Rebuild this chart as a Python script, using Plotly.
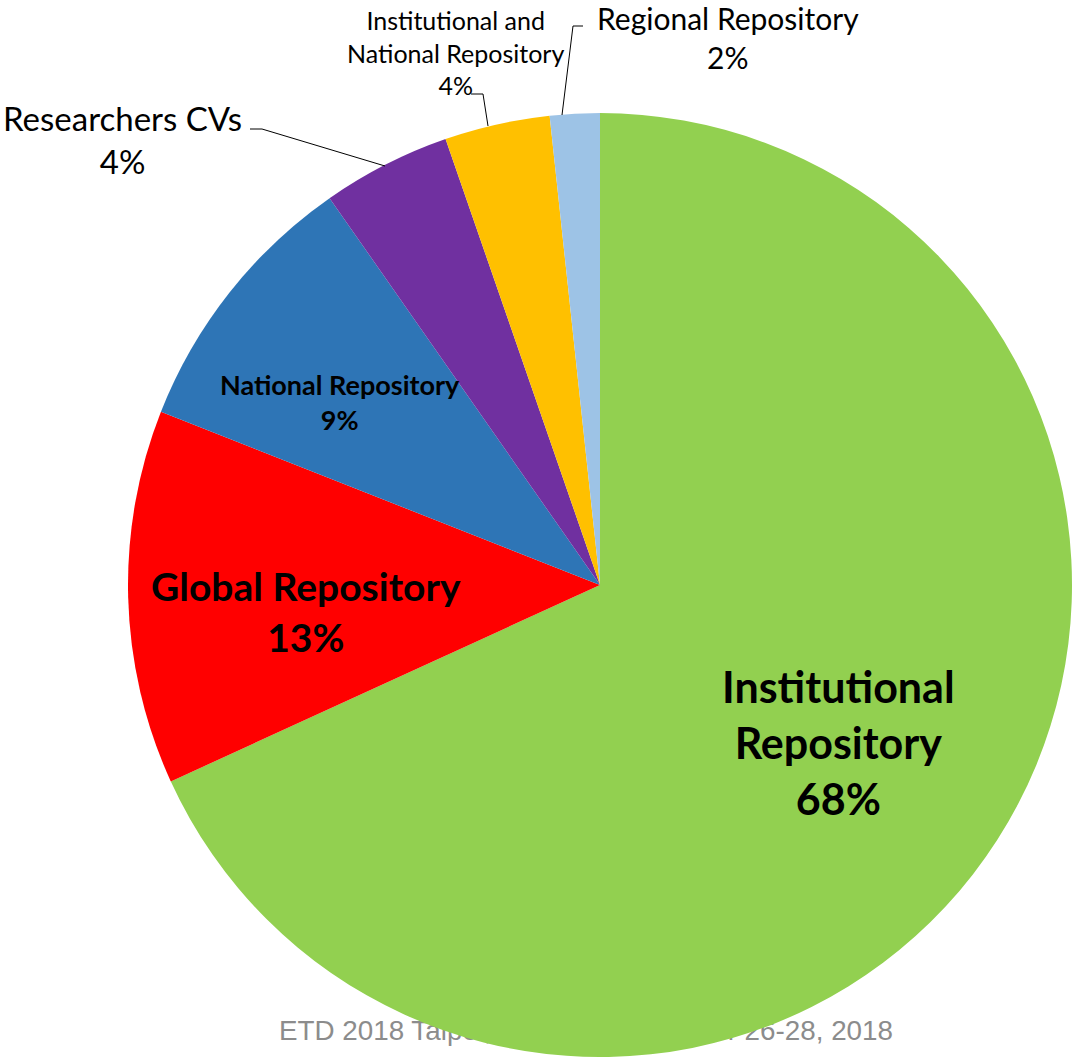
import plotly.graph_objects as go

W, H = 1076, 1057

categories = ["Institutional Repository", "Global Repository", "National Repository",
              "Researchers CVs", "Institutional and National Repository", "Regional Repository"]
label_lines = [["Institutional", "Repository"], ["Global Repository"], ["National Repository"],
               ["Researchers CVs"], ["Institutional and", "National Repository"], ["Regional Repository"]]
values = [68.1, 12.8, 9.3, 4.4, 3.6, 1.7]
colors = ["#92D050", "#FF0000", "#2E75B6", "#7030A0", "#FFC000", "#9DC3E6"]
footer = "ETD 2018 Taipei, Taiwan, September 26-28, 2018"

total = sum(values)
pcts = [round(v / total * 100) for v in values]

fig = go.Figure()

# footer text on cartesian layer (drawn beneath the pie)
fig.add_trace(go.Scatter(x=[279], y=[H - 1033], mode="text", text=[footer],
                         textposition="middle right",
                         textfont=dict(family="Liberation Sans, Arial", size=27.8, color="#8C8C8C"),
                         hoverinfo="skip", showlegend=False))

fig.add_trace(go.Pie(labels=categories, values=values, sort=False, direction="clockwise",
                     rotation=0, marker=dict(colors=colors, line=dict(width=0)),
                     textinfo="none", hoverinfo="label+percent", showlegend=False,
                     domain=dict(x=[128 / W, 1072 / W], y=[0, 944 / H])))

# label styling: (center x, center y, font size, bold)
label_style = [(838, 742, 43, True), (306, 611, 39, True), (340, 402, 27, True),
               (122, 139, 33, False), (455, 52, 25, False), (728, 37, 30, False)]
for lines, p, (cx, cy, fs, bold) in zip(label_lines, pcts, label_style):
    txt = "<br>".join(lines + [f"{p}%"])
    if bold:
        txt = "<b>" + txt + "</b>"
    fig.add_annotation(x=cx / W, y=1 - cy / H, xref="paper", yref="paper", text=txt,
                       showarrow=False, xanchor="center", yanchor="middle", align="center",
                       font=dict(family="Lato", size=fs, color="#000000"))

# leader lines
leaders = [[(250, 129), (262, 129), (385, 166)],
           [(471, 94), (483, 94), (488, 126)],
           [(583, 26), (573, 26), (562, 115)]]
for pts in leaders:
    path = "M " + " L ".join(f"{x / W},{1 - y / H}" for x, y in pts)
    fig.add_shape(type="path", path=path, xref="paper", yref="paper",
                  line=dict(color="#000000", width=1))

fig.update_layout(width=W, height=H, margin=dict(l=0, r=0, t=0, b=0),
                  paper_bgcolor="white", plot_bgcolor="rgba(0,0,0,0)",
                  xaxis=dict(range=[0, W], visible=False, fixedrange=True),
                  yaxis=dict(range=[0, H], visible=False, fixedrange=True))

fig.write_html("out.html", config={"displayModeBar": False},
               post_script="document.body.style.margin='0';")
